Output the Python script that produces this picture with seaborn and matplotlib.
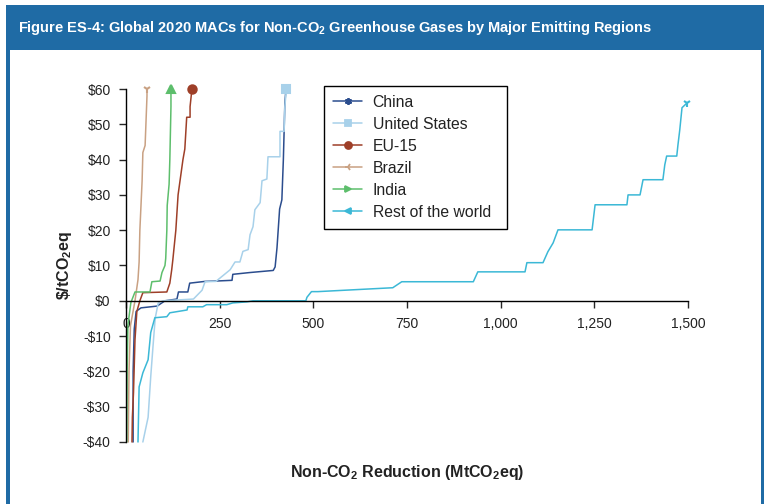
# Global 2020 MACs for Non-CO2 greenhouse gases by region
import matplotlib
matplotlib.use("Agg")
import numpy as np
import matplotlib.pyplot as plt
import seaborn as sns
from matplotlib import font_manager
from matplotlib.patches import Rectangle
from matplotlib.lines import Line2D
from matplotlib.legend_handler import HandlerLine2D
from matplotlib.ticker import FuncFormatter, MultipleLocator

# ---------------------------
# Data
# ---------------------------
china_x = [19, 19, 22, 27, 40, 83, 104, 136, 140, 165, 170, 211, 240, 283, 285, 330, 393, 398, 403, 410, 416, 420, 424, 427]
china_y = [-40, -20, -8, -3, -2, -1.5, 0, 0.5, 2.5, 2.5, 5, 5.5, 5.6, 5.8, 7.5, 8.0, 8.6, 9.6, 15, 26, 28.6, 40, 56, 60]

us_x = [45, 59, 66, 72, 78, 86, 99, 180, 203, 211, 240, 278, 291, 304, 312, 326, 331, 339, 344, 358, 363, 376, 379, 411, 411, 422, 424, 428]
us_y = [-40, -33, -21.5, -13, -4.9, -0.6, 0, 0.5, 3, 5.4, 5.5, 8.8, 11, 11, 14, 14.5, 18.7, 21, 25.8, 27.8, 34, 34.5, 40.8, 40.8, 48, 48, 55, 60]

eu_x = [16, 17, 20, 24, 29, 37, 45, 109, 117, 122, 125, 133, 139, 152, 157, 162, 171, 171, 176]
eu_y = [-40, -33, -26, -11, -3, 0, 2.3, 2.5, 5, 8.8, 11.6, 20, 30, 40, 43, 52, 52, 55, 60]

brazil_x = [6, 8, 12, 24, 32, 35, 37, 43, 45, 51, 56, 56]
brazil_y = [-40, -20, -7, 0, 6, 11, 20, 34, 42, 44, 58, 60]

india_x = [2, 3, 5, 13, 24, 64, 69, 91, 96, 104, 106, 109, 110, 115, 117, 120, 120]
india_y = [-40, -20, -7, -0.5, 2.5, 2.5, 5.4, 5.6, 8, 10, 12, 20, 27, 33, 40, 55, 60]

row_x = [32, 35, 45, 59, 66, 77, 109, 117, 163, 165, 205, 215, 269, 285, 323, 339, 480, 483, 495,
         512, 712, 736, 927, 939, 1065, 1070, 1113, 1126, 1140, 1153, 1244, 1252, 1337, 1340,
         1372, 1380, 1433, 1438, 1443, 1470, 1473, 1478, 1484, 1497]
row_y = [-40, -24.4, -20.4, -16.7, -9, -4.8, -4.5, -3.4, -2.6, -1.7, -1.7, -1.1, -1.1, -0.6, -0.3, 0, 0, 1, 2.6,
         2.6, 3.7, 5.4, 5.4, 8.2, 8.2, 10.8, 10.8, 13.9, 16.4, 20.1, 20.1, 27.2, 27.2, 30,
         30, 34.3, 34.3, 38.5, 41, 41, 44, 48.4, 54.7, 56]

regions = ["China", "United States", "EU-15", "Brazil", "India", "Rest of the world"]
colors = ["#2B4D8E", "#A8D1EA", "#9E3F28", "#C9A183", "#5DBE6C", "#3BB8D6"]
end_markers = [(6, 2, 0), "s", "o", "1", "^", "1"]
legend_markers = [(6, 2, 0), "s", "o", "3", ">", "<"]

series = [(china_x, china_y), (us_x, us_y), (eu_x, eu_y),
          (brazil_x, brazil_y), (india_x, india_y), (row_x, row_y)]


# legend marker only at the right end of the sample line
class EndMarker(HandlerLine2D):
    def get_xdata(self, legend, xdescent, ydescent, width, height, fontsize):
        xdata = np.array([-xdescent, -xdescent + width])
        return xdata, xdata[-1:]


# ---------------------------
# Style
# ---------------------------
sns.set_style("ticks")
plt.rcParams["font.family"] = ["Liberation Sans", "DejaVu Sans"]
plt.rcParams["mathtext.fontset"] = "custom"
plt.rcParams["mathtext.rm"] = "Liberation Sans:bold"
plt.rcParams["mathtext.bf"] = "Liberation Sans:bold"
plt.rcParams["mathtext.default"] = "bf"

installed = {f.name for f in font_manager.fontManager.ttflist}
if "Liberation Sans Narrow" in installed:
    title_family, title_size = "Liberation Sans Narrow", 12.5
else:
    title_family, title_size = "Liberation Sans", 10.5

blue = "#1F6BA5"
txt = "#222222"

fig = plt.figure(figsize=(7.64, 5.04), dpi=100)
fig.patch.set_facecolor("white")
W, H = 764, 504
fig.add_artist(Rectangle((6 / W, 0), 1, (H - 5) / H, transform=fig.transFigure,
                         facecolor=blue, edgecolor="none", zorder=-3))
fig.add_artist(Rectangle((10 / W, 0), (761 - 10) / W, (H - 50) / H, transform=fig.transFigure,
                         facecolor="white", edgecolor="none", zorder=-2))
fig.text(18 / W, 1 - 28 / H,
         r"Figure ES-4: Global 2020 MACs for Non-CO$_2$ Greenhouse Gases by Major Emitting Regions",
         color="white", fontsize=title_size, fontweight="bold", family=title_family,
         va="center", ha="left")

ax = fig.add_axes([126 / W, 62 / H, 562 / W, 353 / H])
ax.set_facecolor("none")

for (xs, ys), name, c, m in zip(series, regions, colors, end_markers):
    sns.lineplot(x=xs, y=ys, ax=ax, sort=False, estimator=None, color=c, linewidth=1.1,
                 legend=False, marker=m, markevery=[-1], markersize=6, mew=1.5,
                 markerfacecolor=c, markeredgecolor=c, clip_on=False)

ax.set_xlim(0, 1500)
ax.set_ylim(-40, 60)
ax.xaxis.set_major_locator(MultipleLocator(250))
ax.yaxis.set_major_locator(MultipleLocator(10))
ax.xaxis.set_major_formatter(FuncFormatter(lambda v, p: f"{int(v):,}"))
ax.yaxis.set_major_formatter(FuncFormatter(lambda v, p: f"${int(v)}" if v >= 0 else f"-${int(-v)}"))

ax.spines["top"].set_visible(False)
ax.spines["right"].set_visible(False)
ax.spines["bottom"].set_position(("data", 0))
for s in ("left", "bottom"):
    ax.spines[s].set_linewidth(1.0)
    ax.spines[s].set_color("black")
ax.tick_params(axis="x", direction="out", length=5, width=1, pad=7, labelsize=10, labelcolor=txt)
ax.tick_params(axis="y", direction="out", length=5, width=1, pad=6, labelsize=10, labelcolor=txt)

ax.set_xlabel(r"Non-CO$_2$ Reduction (MtCO$_2$eq)", fontsize=11.5, fontweight="bold", color=txt)
ax.xaxis.set_label_coords(0.5, -31 / 353)
ax.xaxis.label.set_va("center")
ax.set_ylabel(r"\$/tCO$_2$eq", fontsize=11.5, fontweight="bold", color=txt)
ax.yaxis.set_label_coords(-62 / 562, 0.5)
ax.yaxis.label.set_va("center")

# legend box drawn as its own frame so it can be a bit wider than the text
fig.add_artist(Rectangle((324 / W, 1 - 229 / H), (507 - 324) / W, (229 - 86) / H,
                         transform=fig.transFigure, facecolor="white", edgecolor="black",
                         linewidth=1.0, zorder=4))
handles = [Line2D([0, 1], [0, 0], color=c, linewidth=1.1, marker=m,
                  markersize=5, mew=1.3, markerfacecolor=c, markeredgecolor=c)
           for c, m in zip(colors, legend_markers)]
leg = fig.legend(handles, regions, loc="upper left", bbox_to_anchor=(324 / W, 1 - 86 / H),
                 bbox_transform=fig.transFigure, handler_map={Line2D: EndMarker()},
                 fontsize=11.3, frameon=False, borderpad=0.55, labelspacing=0.45,
                 handlelength=1.9, handletextpad=0.65, borderaxespad=0)
leg.set_zorder(5)
for t in leg.get_texts():
    t.set_color(txt)

fig.savefig("out.png", dpi=100)
